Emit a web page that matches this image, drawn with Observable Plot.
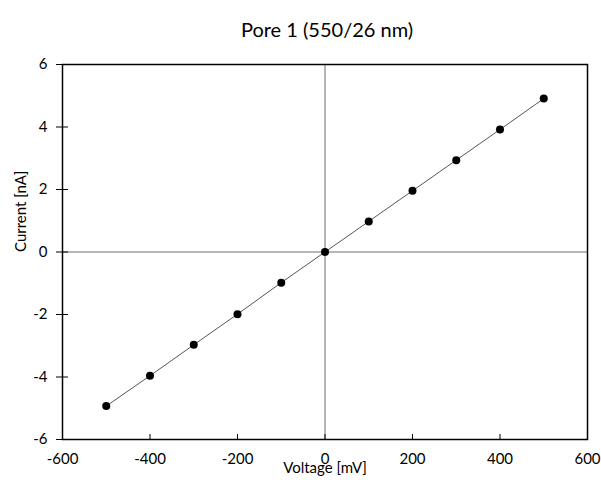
<!DOCTYPE html>
<html><head><meta charset="utf-8">
<script src="https://cdn.jsdelivr.net/npm/d3@7"></script>
<script src="https://cdn.jsdelivr.net/npm/@observablehq/plot@0.6"></script>
<style>body{margin:0;background:#fff}</style>
</head><body><div id="chart"></div>
<script>
const voltage = [-500, -400, -300, -200, -100, 0, 100, 200, 300, 400, 500];
const current = [-4.93, -3.96, -2.97, -1.99, -0.98, 0, 0.98, 1.96, 2.94, 3.92, 4.91];
const xTicks = [-600, -400, -200, 0, 200, 400, 600];
const yTicks = [-6, -4, -2, 0, 2, 4, 6];
const title = "Pore 1 (550/26 nm)";
const xLabel = "Voltage [mV]";
const yLabel = "Current [nA]";

const data = voltage.map((v, i) => ({v, c: current[i]}));
const font = "Lato, 'Open Sans', sans-serif";
const fmt = d => String(d);

const chart = Plot.plot({
  width: 601, height: 482,
  marginLeft: 62, marginRight: 14, marginTop: 64, marginBottom: 43,
  style: {fontFamily: font, fontSize: "15px", color: "#000", background: "#fff"},
  x: {domain: [-600, 600]},
  y: {domain: [-6, 6]},
  marks: [
    Plot.ruleX([0], {stroke: "#6e6e6e", strokeWidth: 1}),
    Plot.ruleY([0], {stroke: "#6e6e6e", strokeWidth: 1}),
    Plot.line(data, {x: "v", y: "c", stroke: "#555", strokeWidth: 1}),
    Plot.dot(data, {x: "v", y: "c", r: 4, fill: "#000", stroke: "none"}),
    Plot.frame({stroke: "#000", strokeWidth: 1.5}),
    Plot.axisX({ticks: xTicks, tickSize: 0, tickPadding: 14, tickFormat: fmt, label: null, fontSize: 15}),
    Plot.axisX({ticks: xTicks, tickSize: -5, tickFormat: () => "", label: null, stroke: "#000"}),
    Plot.axisY({ticks: yTicks, tickSize: 6, tickPadding: 9, tickFormat: fmt, label: null, fontSize: 15, stroke: "#000"}),
    Plot.axisY({ticks: yTicks, tickSize: -6, tickFormat: () => "", label: null, stroke: "#000"}),
    Plot.text([title], {frameAnchor: "top", dy: -42, dx: 2, fontSize: 20, text: d => d}),
    Plot.text([xLabel], {frameAnchor: "bottom", dy: 33, fontSize: 15, text: d => d}),
    Plot.text([yLabel], {frameAnchor: "left", dx: -41, rotate: -90, fontSize: 15, text: d => d})
  ]
});
document.getElementById("chart").append(chart);
</script>
</body></html>
